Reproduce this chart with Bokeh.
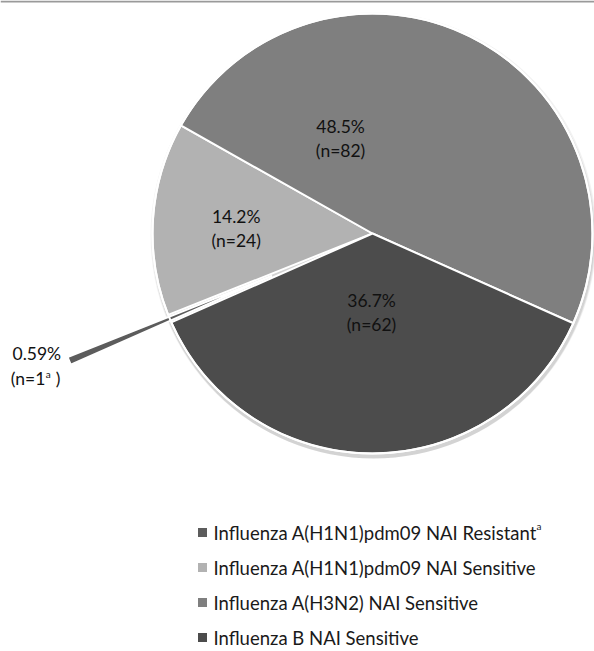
import math
from bokeh.plotting import figure
from bokeh.models import Range1d
from bokeh.core.properties import value
from bokeh.embed import file_html
from bokeh.resources import INLINE

# ---- data ----
categories = ["Influenza A(H1N1)pdm09 NAI Resistant",
              "Influenza A(H1N1)pdm09 NAI Sensitive",
              "Influenza A(H3N2) NAI Sensitive",
              "Influenza B NAI Sensitive"]
counts = [1, 24, 82, 62]
pct_labels = ["0.59%", "14.2%", "48.5%", "36.7%"]
n_labels = ["(n=1", "(n=24)", "(n=82)", "(n=62)"]
colors = ["#5c5c5c", "#b2b2b2", "#7f7f7f", "#4c4c4c"]

# ---- layout / style ----
W, H = 594, 651
FONT = "Lato"
LBL = "17.5px"


def px(x):
    return x


def py(y):
    return H - y


p = figure(width=W, height=H, x_range=Range1d(0, W), y_range=Range1d(0, H),
           output_backend="svg", toolbar_location=None, min_border=0)
p.axis.visible = False
p.grid.visible = False
p.outline_line_color = None
p.background_fill_color = "white"
p.border_fill_color = "white"

# top border line of the original figure
p.line([0, W], [H - 1, H - 1], line_color="#9a9a9a", line_width=2)

cx, cy, R = px(372), py(233), 220
start = math.radians(203.85)
total = sum(counts)
explode = [109, 0, 0, 0]
label_angle = [201.5, 177.7, 108.6, -90.7]
label_rfrac = [1.64, 0.62, 0.455, 0.357]

# soft shadow
for k, a in enumerate([0.05, 0.06, 0.07]):
    p.circle(x=[cx + 1], y=[cy - 2 - k], radius=R + 3 - k, fill_color="#000000",
             fill_alpha=a, line_color=None)

cum = 0.0
for i, c in enumerate(counts):
    a_hi = start - cum / total * 2 * math.pi
    a_lo = start - (cum + c) / total * 2 * math.pi
    cum += c
    mid = (a_hi + a_lo) / 2
    ox = cx + explode[i] * math.cos(mid)
    oy = cy + explode[i] * math.sin(mid)
    p.wedge(x=[ox], y=[oy], radius=R, start_angle=a_lo, end_angle=a_hi,
            fill_color=colors[i], line_color="white", line_width=2)

# outer white rim
p.circle(x=[cx], y=[cy], radius=R, fill_color=None, line_color="white", line_width=2)

# data labels
for i in range(len(counts)):
    ang = math.radians(label_angle[i])
    lx = cx + label_rfrac[i] * R * math.cos(ang)
    ly = cy + label_rfrac[i] * R * math.sin(ang)
    p.text(x=[lx], y=[ly + 12], text=[pct_labels[i]], text_font=value(FONT),
           text_font_size=LBL, text_align="center", text_baseline="middle",
           text_color="#111111")
    if i == 0:
        x0 = lx - 26
        p.text(x=[x0], y=[ly - 13], text=[n_labels[i]], text_font=value(FONT),
               text_font_size=LBL, text_align="left", text_baseline="middle",
               text_color="#111111")
        p.text(x=[x0 + 35], y=[ly - 8], text=["a"], text_font=value(FONT),
               text_font_size="10px", text_align="left", text_baseline="middle",
               text_color="#111111")
        p.text(x=[x0 + 45], y=[ly - 13], text=[")"], text_font=value(FONT),
               text_font_size=LBL, text_align="left", text_baseline="middle",
               text_color="#111111")
    else:
        p.text(x=[lx], y=[ly - 12], text=[n_labels[i]], text_font=value(FONT),
               text_font_size=LBL, text_align="center", text_baseline="middle",
               text_color="#111111")

# legend
leg_x, leg_y0, leg_dy = px(202), py(532), 35
for i, cat in enumerate(categories):
    yy = leg_y0 - i * leg_dy
    p.rect(x=[leg_x], y=[yy], width=9, height=9, fill_color=colors[i], line_color=None)
    p.text(x=[leg_x + 11], y=[yy], text=[cat], text_font=value(FONT),
           text_font_size="18.5px", text_align="left", text_baseline="middle",
           text_color="#1a1a1a")
    if i == 0:
        p.text(x=[leg_x + 334], y=[yy + 7], text=["a"], text_font=value(FONT),
               text_font_size="10px", text_align="left", text_baseline="middle",
               text_color="#1a1a1a")

open("out.html", "w").write(file_html(p, INLINE))
